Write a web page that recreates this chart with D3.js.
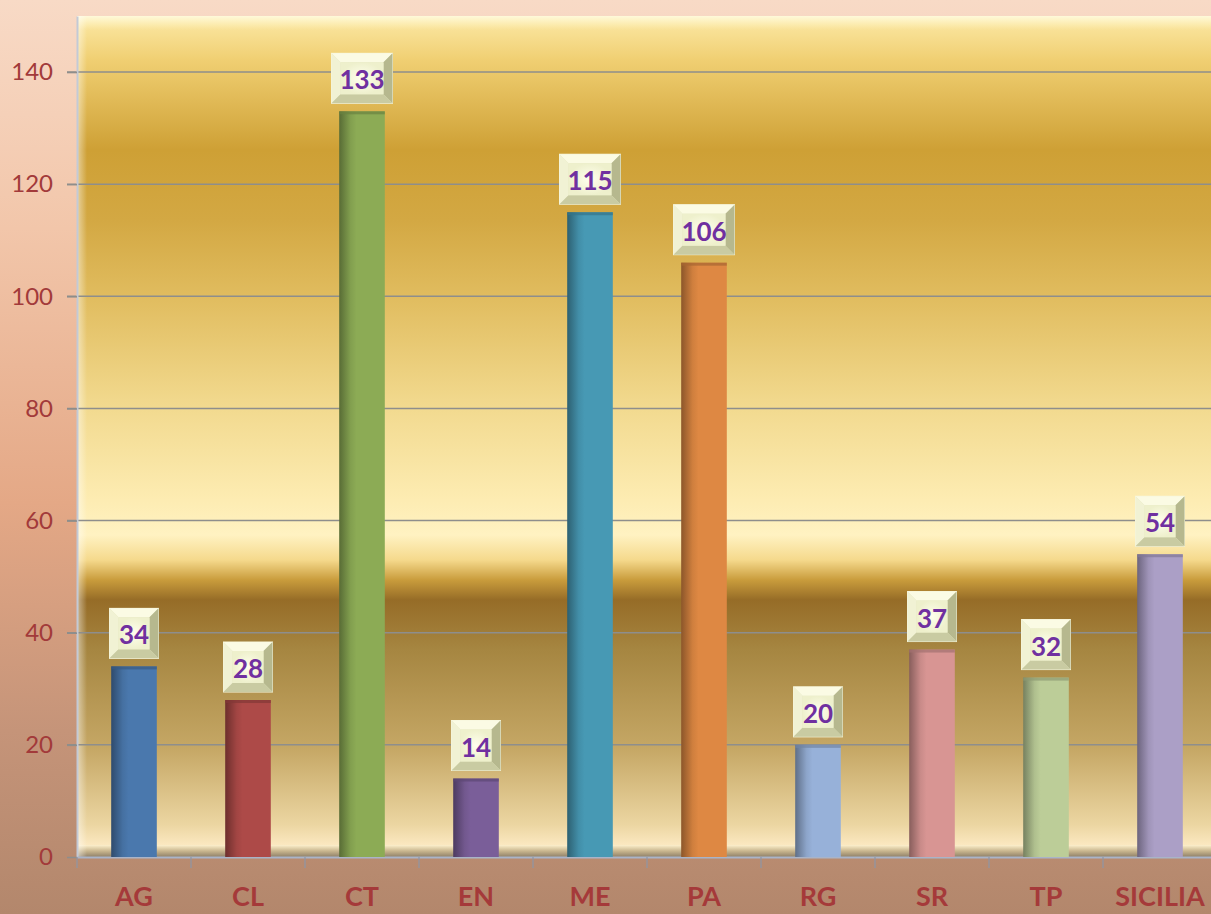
<!DOCTYPE html>
<html>
<head>
<meta charset="utf-8">
<script src="https://cdn.jsdelivr.net/npm/d3@7"></script>
<style>
  html, body { margin: 0; padding: 0; overflow: hidden; }
  svg { display: block; }
  .tick text { font-family: Lato, "Open Sans", sans-serif; }
</style>
</head>
<body>
<div id="chart"></div>
<script>
// data
const categories = ['AG', 'CL', 'CT', 'EN', 'ME', 'PA', 'RG', 'SR', 'TP', 'SICILIA'];
const values = [34, 28, 133, 14, 115, 106, 20, 37, 32, 54];
const barColors = ['#4a78ad', '#ad4a48', '#8cab55', '#7a5e99', '#4799b4', '#de8843', '#97b1d9', '#d89593', '#bccd98', '#ab9fc6'];
const yTicks = [0, 20, 40, 60, 80, 100, 120, 140];

const width = 1211, height = 914;
const margin = {left: 77, top: 16, right: -6, bottom: 57};

const svg = d3.select('#chart').append('svg')
    .attr('width', width)
    .attr('height', height);

const defs = svg.append('defs');

// page background
let pageGrad = defs.append('linearGradient').attr('id', 'pageBg')
    .attr('x1', 0).attr('y1', 0).attr('x2', 0).attr('y2', 1);
[[0, '#f8dac6'], [0.25, '#f2c6aa'], [0.55, '#e4a886'], [0.8, '#c59479'], [1, '#b3876c']]
    .forEach(s => pageGrad.append('stop').attr('offset', s[0]).attr('stop-color', s[1]));

svg.append('rect').attr('width', width).attr('height', height).attr('fill', 'url(#pageBg)');

let x = d3.scaleBand().domain(categories)
    .range([margin.left, width - margin.right])
    .paddingInner(0.6).paddingOuter(0.3);
let xb = d3.scaleBand().domain(categories).range([margin.left, width - margin.right]);
let y = d3.scaleLinear().domain([0, 150]).range([height - margin.bottom, margin.top]);

let plotTop = y(150), plotBottom = y(0);
let plotH = plotBottom - plotTop;

// plot area gradient (by pixel y converted to offsets)
let plotGrad = defs.append('linearGradient').attr('id', 'plotBg')
    .attr('x1', 0).attr('y1', 0).attr('x2', 0).attr('y2', 1);
[[20, '#fbe7a2'], [60, '#f0cf72'], [150, '#cea035'], [220, '#d3a843'], [300, '#e1bd60'],
 [400, '#f1d88c'], [500, '#fdecb2'], [535, '#fff2c2'], [560, '#f5d98c'], [580, '#c99c3c'],
 [600, '#966c27'], [650, '#a68641'], [750, '#c6a866'], [825, '#ecd6a2'], [845, '#fbe8c0']]
    .forEach(s => plotGrad.append('stop').attr('offset', (s[0] - plotTop) / plotH).attr('stop-color', s[1]));

svg.append('rect')
    .attr('x', margin.left).attr('y', plotTop)
    .attr('width', width - margin.left + 10).attr('height', plotH)
    .attr('fill', 'url(#plotBg)');

// bevel of the plot area frame
let frameTop = defs.append('linearGradient').attr('id', 'frameTop')
    .attr('x1', 0).attr('y1', 0).attr('x2', 0).attr('y2', 1);
frameTop.append('stop').attr('offset', 0).attr('stop-color', '#fffbe0').attr('stop-opacity', 0.9);
frameTop.append('stop').attr('offset', 1).attr('stop-color', '#fff6c8').attr('stop-opacity', 0);
svg.append('rect').attr('x', margin.left).attr('y', plotTop)
    .attr('width', width).attr('height', 14).attr('fill', 'url(#frameTop)');

let frameBot = defs.append('linearGradient').attr('id', 'frameBot')
    .attr('x1', 0).attr('y1', 0).attr('x2', 0).attr('y2', 1);
frameBot.append('stop').attr('offset', 0).attr('stop-color', '#fdf0cc');
frameBot.append('stop').attr('offset', 0.5).attr('stop-color', '#c9b68e');
frameBot.append('stop').attr('offset', 1).attr('stop-color', '#8f8068');
svg.append('rect').attr('x', margin.left).attr('y', plotBottom - 12)
    .attr('width', width).attr('height', 12).attr('fill', 'url(#frameBot)');

let frameLeft = defs.append('linearGradient').attr('id', 'frameLeft')
    .attr('x1', 0).attr('y1', 0).attr('x2', 1).attr('y2', 0);
frameLeft.append('stop').attr('offset', 0).attr('stop-color', '#ffffff').attr('stop-opacity', 0.5);
frameLeft.append('stop').attr('offset', 1).attr('stop-color', '#ffffff').attr('stop-opacity', 0);
svg.append('rect').attr('x', margin.left).attr('y', plotTop)
    .attr('width', 10).attr('height', plotH).attr('fill', 'url(#frameLeft)');

// gridlines
svg.append('g')
    .selectAll('line')
    .data(yTicks.filter(d => d > 0))
    .enter()
    .append('line')
    .attr('x1', margin.left - 10).attr('x2', width)
    .attr('y1', d => y(d)).attr('y2', d => y(d))
    .attr('stroke', '#8e8e8c').attr('stroke-width', 1.5);

// y axis
let yAxis = svg.append('g')
    .attr('transform', 'translate(' + margin.left + ',0)')
    .call(d3.axisLeft(y).tickValues(yTicks).tickSize(10).tickSizeOuter(0).tickPadding(14));
yAxis.select('.domain').attr('stroke', '#c3cad6').attr('stroke-width', 2);
yAxis.selectAll('.tick line').attr('stroke', '#8e8e8c').attr('stroke-width', 1.5);
yAxis.selectAll('.tick text')
    .attr('fill', '#a23a3a')
    .style('font-size', '24px');

// x axis
let xAxis = svg.append('g')
    .attr('transform', 'translate(0,' + plotBottom + ')')
    .call(d3.axisBottom(xb).tickSize(0).tickSizeOuter(0).tickPadding(30));
xAxis.select('.domain').attr('stroke', '#a9b4c8').attr('stroke-width', 2);
xAxis.selectAll('.tick text')
    .attr('fill', '#a53a3a')
    .style('font-size', '27px')
    .style('font-weight', 'bold');
// category separators
svg.append('g').selectAll('line')
    .data(categories)
    .enter()
    .append('line')
    .attr('x1', d => xb(d)).attr('x2', d => xb(d))
    .attr('y1', plotBottom).attr('y2', plotBottom + 11)
    .attr('stroke', '#8e96a6').attr('stroke-width', 1.2);

// bar gradients
categories.forEach((c, i) => {
    let base = d3.color(barColors[i]);
    let g = defs.append('linearGradient').attr('id', 'bar' + i)
        .attr('x1', 0).attr('y1', 0).attr('x2', 1).attr('y2', 0);
    g.append('stop').attr('offset', 0).attr('stop-color', base.darker(1.3));
    g.append('stop').attr('offset', 0.25).attr('stop-color', base.darker(0.2));
    g.append('stop').attr('offset', 0.38).attr('stop-color', base);
    g.append('stop').attr('offset', 1).attr('stop-color', base);
});

let bars = svg.append('g').selectAll('g')
    .data(values)
    .enter()
    .append('g');

bars.append('rect')
    .attr('x', (d, i) => x(categories[i]))
    .attr('y', d => y(d))
    .attr('width', x.bandwidth())
    .attr('height', d => y(0) - y(d))
    .attr('fill', (d, i) => 'url(#bar' + i + ')');

bars.append('rect')
    .attr('x', (d, i) => x(categories[i]))
    .attr('y', d => y(d))
    .attr('width', x.bandwidth())
    .attr('height', 3)
    .attr('fill', (d, i) => d3.color(barColors[i]).darker(0.8))
    .attr('opacity', 0.7);

// value labels, bevelled boxes
let faceGrad = defs.append('radialGradient').attr('id', 'labelFace');
faceGrad.append('stop').attr('offset', 0).attr('stop-color', '#ffffee');
faceGrad.append('stop').attr('offset', 1).attr('stop-color', '#eef0cc');

let labelH = 50, bevel = 9;
let labels = bars.append('g')
    .attr('transform', (d, i) => {
        let w = String(d).length > 2 ? 61 : 49;
        let cx = x(categories[i]) + x.bandwidth() / 2;
        return 'translate(' + (cx - w / 2) + ',' + (y(d) - 8 - labelH) + ')';
    });

labels.each(function (d) {
    let w = String(d).length > 2 ? 61 : 49;
    let h = labelH, b = bevel;
    let g = d3.select(this);
    g.append('rect').attr('width', w).attr('height', h).attr('fill', '#e4e6c0')
        .attr('stroke', '#f6f6dc').attr('stroke-width', 1);
    g.append('path').attr('d', `M0,0 L${w},0 L${w - b},${b} L${b},${b} Z`).attr('fill', '#fbfbe4');
    g.append('path').attr('d', `M0,0 L${b},${b} L${b},${h - b} L0,${h} Z`).attr('fill', '#f1f2d4');
    g.append('path').attr('d', `M${w},0 L${w},${h} L${w - b},${h - b} L${w - b},${b} Z`).attr('fill', '#b6b88e');
    g.append('path').attr('d', `M0,${h} L${w},${h} L${w - b},${h - b} L${b},${h - b} Z`).attr('fill', '#c9cba2');
    g.append('rect').attr('x', b).attr('y', b).attr('width', w - 2 * b).attr('height', h - 2 * b)
        .attr('fill', 'url(#labelFace)');
    g.append('text')
        .attr('x', w / 2).attr('y', h / 2 + 1)
        .attr('text-anchor', 'middle')
        .attr('dominant-baseline', 'central')
        .attr('fill', '#7030a0')
        .style('font-family', 'Lato, "Open Sans", sans-serif')
        .style('font-weight', 'bold')
        .style('font-size', '26px')
        .text(d);
});
</script>
</body>
</html>
